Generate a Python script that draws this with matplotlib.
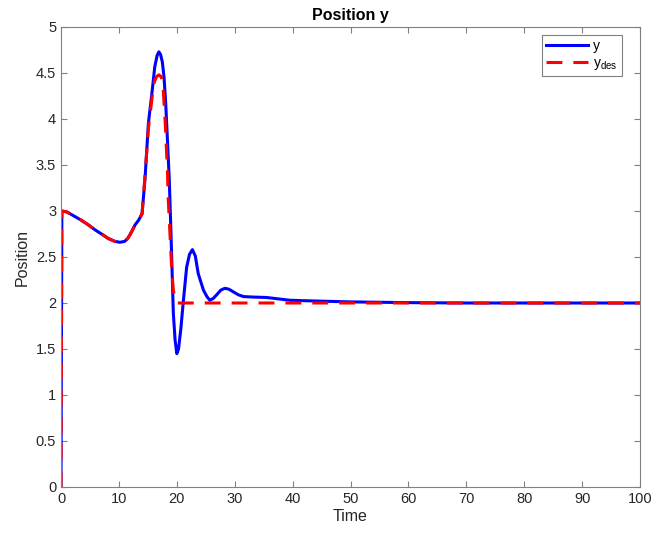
import matplotlib
matplotlib.use("Agg")
import matplotlib.pyplot as plt

plt.rcParams['font.family'] = ['Liberation Sans', 'DejaVu Sans']

# Actual position y
t_y = [0, 0.15, 1.0, 2.4, 3.5, 4.7, 6.0, 7.0, 8.2, 9.3, 10.2, 11.0, 11.5, 11.9, 12.4,
       12.8, 13.4, 14.0, 14.5, 15.1, 15.7, 16.2, 16.6, 16.9, 17.2, 17.5, 17.8, 18.1, 18.4,
       18.7, 19.0, 19.4, 19.7, 20.0, 20.3, 20.7, 21.1, 21.7, 22.2, 22.7, 23.2, 23.7,
       24.2, 24.6, 25.2, 25.7, 26.3, 26.9, 27.6, 28.3, 29.0, 29.8, 30.6, 31.5, 33.0,
       35.5, 37.5, 39.5, 42.0, 45.0, 50.0, 55.0, 60.0, 70.0, 80.0, 90.0, 100.0]
y_pos = [0, 3.0, 2.99, 2.94, 2.90, 2.85, 2.79, 2.75, 2.70, 2.67, 2.66, 2.67, 2.70, 2.74, 2.80,
         2.85, 2.90, 2.97, 3.34, 3.96, 4.28, 4.57, 4.69, 4.73, 4.70, 4.62, 4.45, 4.15, 3.75,
         3.34, 2.75, 1.89, 1.60, 1.45, 1.50, 1.72, 2.00, 2.39, 2.53, 2.58, 2.51, 2.32,
         2.22, 2.14, 2.07, 2.03, 2.05, 2.09, 2.14, 2.16, 2.15, 2.12, 2.09, 2.07, 2.065,
         2.06, 2.045, 2.03, 2.025, 2.02, 2.012, 2.008, 2.004, 2.0, 2.0, 2.0, 2.0]

# Desired position y_des
t_des = [0, 0.15, 1.0, 2.4, 3.5, 4.7, 6.0, 7.0, 8.2, 9.3, 10.2, 11.0, 11.5, 11.9, 12.4,
         12.8, 13.4, 14.0, 14.5, 15.1, 15.7, 16.1, 16.5, 16.9, 17.3, 17.6, 18.0, 18.4,
         18.5, 19.1, 19.4, 19.7, 20.0, 25.0, 40.0, 60.0, 80.0, 100.0]
y_des = [0, 3.0, 2.99, 2.94, 2.90, 2.85, 2.79, 2.75, 2.70, 2.67, 2.66, 2.67, 2.70, 2.74, 2.80,
         2.85, 2.90, 2.97, 3.38, 3.90, 4.22, 4.40, 4.46, 4.48, 4.46, 4.38, 3.96, 3.41,
         3.16, 2.39, 2.14, 2.03, 2.0, 2.0, 2.0, 2.0, 2.0, 2.0]

x_ticks = [0, 10, 20, 30, 40, 50, 60, 70, 80, 90, 100]
y_ticks = [0, 0.5, 1, 1.5, 2, 2.5, 3, 3.5, 4, 4.5, 5]
y_tick_labels = ['0', '0.5', '1', '1.5', '2', '2.5', '3', '3.5', '4', '4.5', '5']

fig = plt.figure(figsize=(6.7, 5.33), dpi=100)
ax = fig.add_axes([61/670, 1 - 487/533, (640 - 61)/670, (487 - 27)/533])

ax.plot(t_y, y_pos, color='#0000ff', lw=2.2, label='y', solid_joinstyle='round')
ax.plot(t_des, y_des, color='#ff0000', lw=2.2, ls=(0, (5.2, 3.6)), label='y$_{\\mathregular{des}}$')

ax.set_xlim(0, 100)
ax.set_ylim(0, 5)
ax.set_xticks(x_ticks)
ax.set_yticks(y_ticks)
ax.set_yticklabels(y_tick_labels)

grayc = '#808080'
for s in ax.spines.values():
    s.set_color(grayc)
    s.set_linewidth(0.8)
ax.tick_params(direction='in', top=True, right=True, length=4, width=0.8,
               color=grayc, labelcolor='#262626', labelsize=10.5)

ax.set_title('Position y', fontsize=11.5, fontweight='bold', color='black', pad=5)
ax.set_xlabel('Time', fontsize=11.5, color='#262626', labelpad=2)
ax.set_ylabel('Position', fontsize=11.5, color='#262626', labelpad=4)

leg = ax.legend(loc='upper right', bbox_to_anchor=(622/670, 1 - 35/533), bbox_transform=fig.transFigure,
                borderaxespad=0, fancybox=False, framealpha=1, edgecolor=grayc, fontsize=10,
                handlelength=3.0, borderpad=0.3, labelspacing=0.2, handletextpad=0.4)
leg.get_frame().set_linewidth(0.8)

fig.savefig('out.png', dpi=100)
